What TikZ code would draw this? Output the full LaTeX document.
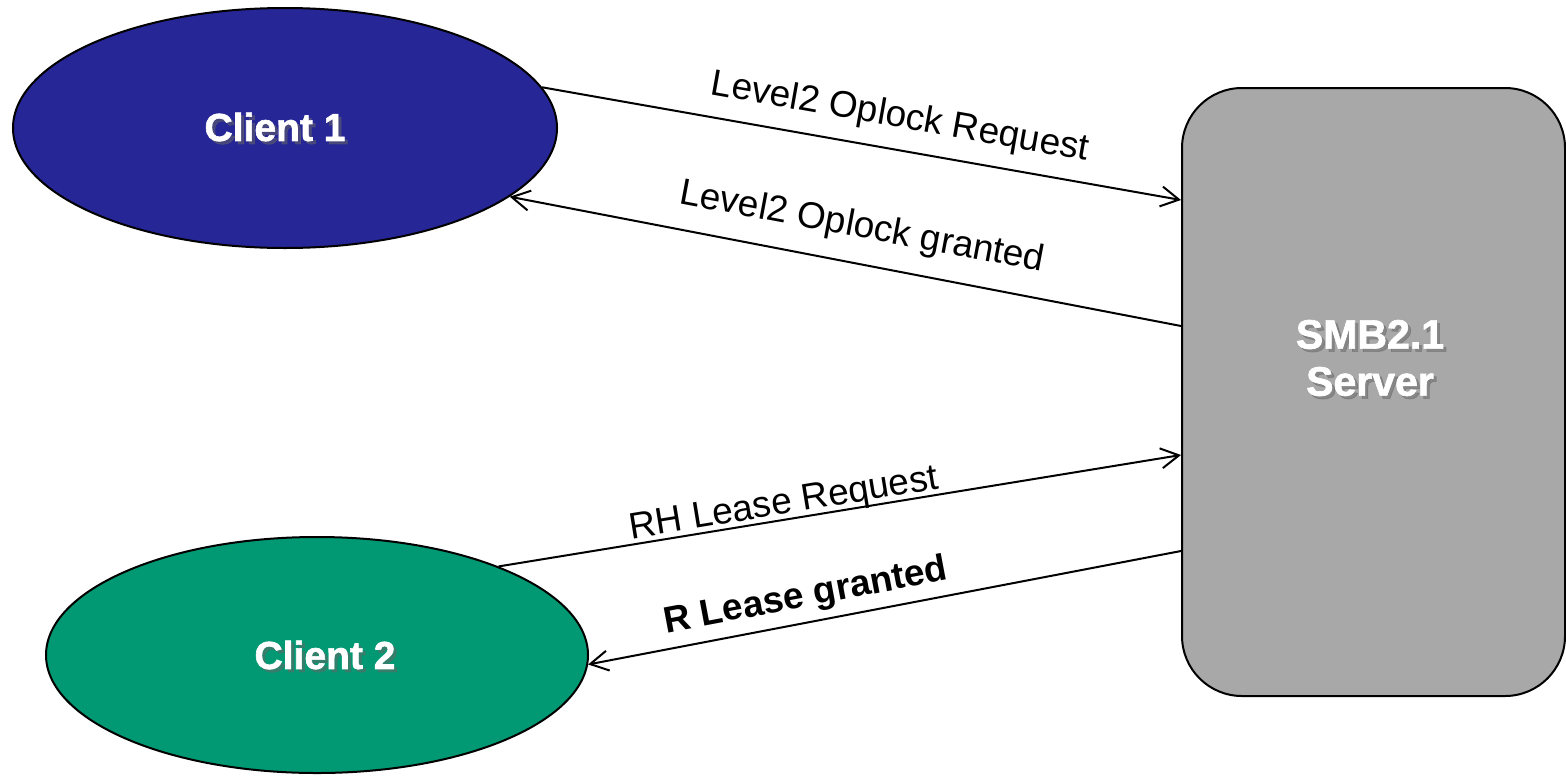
\documentclass[tikz,border=0pt]{standalone}
\usepackage{fontspec}
\setmainfont{Liberation Sans}
\newfontfamily\heavyfont[BoldFeatures={FakeBold=1.6}]{Liberation Sans}
\usetikzlibrary{arrows.meta,calc,shapes.geometric}
\definecolor{clientblue}{HTML}{262696}
\definecolor{clientgreen}{HTML}{009973}
\definecolor{servergray}{HTML}{A8A8A8}
\begin{document}
\begin{tikzpicture}[x=0.5pt,y=-0.5pt,
  client/.style={ellipse,draw=black,line width=1pt,inner sep=0pt},
  server/.style={rectangle,draw=black,line width=1pt,fill=servergray,
    rounded corners=30pt,inner sep=0pt,minimum width=191.5pt,minimum height=304pt},
  title/.style={font=\heavyfont\bfseries\fontsize{19.5}{23.5}\selectfont,text=white,align=center},
  titleshadow/.style={font=\heavyfont\bfseries\fontsize{19.5}{23.5}\selectfont,text=black!60,
    opacity=0.5,align=center},
  msg/.style={font=\fontsize{18.5}{22}\selectfont,inner sep=0pt},
  arr/.style={line width=1pt,-{Straight Barb[length=9pt,width=10pt,line width=1pt]}}]
\useasboundingbox (0,0) rectangle (1566,776);

% hosts
\node[client,fill=clientblue,minimum width=272pt,minimum height=120pt] (c1) at (285,128) {};
\node[client,fill=clientgreen,minimum width=271pt,minimum height=118pt] (c2) at (317,655) {};
\node[server] (srv) at (1373.5,392) {};

% host titles with a soft drop shadow
\node[titleshadow] (c1s) at (278,130) {Client 1};
\node[title] (c1t) at (275,127) {Client 1};
\node[titleshadow] (c2s) at (328,658) {Client 2};
\node[title] (c2t) at (325,655) {Client 2};
\node[titleshadow,font=\heavyfont\bfseries\fontsize{20.5}{23.5}\selectfont] (srvs) at (1373,361) {SMB2.1\\Server};
\node[title,font=\heavyfont\bfseries\fontsize{20.5}{23.5}\selectfont] (srvt) at (1370,358) {SMB2.1\\Server};

% attachment points on the server's left side
\coordinate (s1) at ($(srv.north west)+(0,113)$);
\coordinate (s2) at ($(srv.north west)+(0,239)$);
\coordinate (s3) at ($(srv.north west)+(0,368)$);
\coordinate (s4) at ($(srv.north west)+(0,464)$);

% messages
\draw[arr] (c1.9) -- (s1);
\draw[arr] (s2) -- (c1.-17);
\draw[arr] (c2.26) -- (s3);
\draw[arr] (s4) -- (c2.-2);

\node[msg,rotate=-10] (m1) at (900,118) {Level2 Oplock Request};
\node[msg,rotate=-10.6] (m2) at (862,228) {Level2 Oplock granted};
\node[msg,rotate=9.3] (m3) at (784,505) {RH Lease Request};
\node[msg,rotate=10.7,font=\bfseries\fontsize{18.5}{22}\selectfont] (m4) at (806,597) {R Lease granted};
\end{tikzpicture}
\end{document}
